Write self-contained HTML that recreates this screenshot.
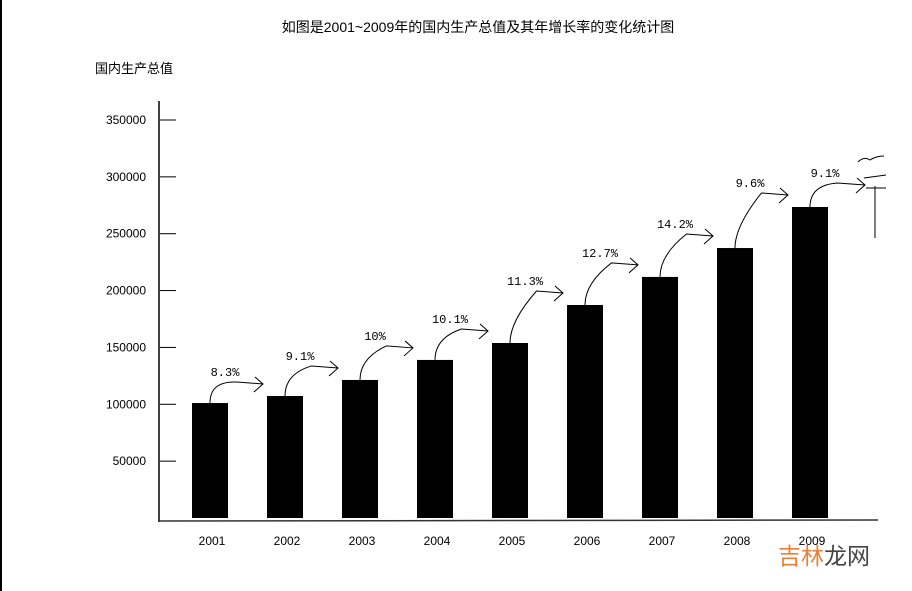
<!DOCTYPE html>
<html><head><meta charset="utf-8"><style>
body{margin:0;background:#fff;}
svg{display:block;font-family:"Liberation Sans","Noto Sans CJK SC",sans-serif;}
</style></head><body>
<svg width="912" height="591" viewBox="0 0 912 591">
<rect x="0" y="0" width="2" height="591" fill="#000"/>
<text x="478" y="32" font-size="14" text-anchor="middle">如图是2001~2009年的国内生产总值及其年增长率的变化统计图</text>
<text x="95" y="73" font-size="13">国内生产总值</text>
<line x1="159" y1="101" x2="159" y2="522" stroke="#000" stroke-width="1.5"/>
<line x1="159" y1="521" x2="878" y2="520" stroke="#333" stroke-width="1.5"/>
<g id="ticks"></g><g id="bars"></g><g id="arrows"></g><g id="xlabels"></g>
<text x="778" y="564" font-size="23" fill="#e8803a">吉林<tspan fill="#444">龙网</tspan></text>
<path d="M858 162 q6 -6 12 -2 q6 -4 14 -4 M864 178 l22 -3 M866 188 l20 0 M875 186 l0 52" stroke="#000" fill="none" stroke-width="1"/>
</svg>
<script>
const years=["2001","2002","2003","2004","2005","2006","2007","2008","2009"];
const gdp=[101100,107300,121400,139000,153900,187300,212000,237400,273500];
const growth=["8.3%","9.1%","10%","10.1%","11.3%","12.7%","14.2%","9.6%","9.1%"];
const tickValues=[50000,100000,150000,200000,250000,300000,350000];
const NS="http://www.w3.org/2000/svg";
const y0=518,y1=120,vmax=350000;
function yS(v){return y0-(y0-y1)*v/vmax;}
const xStart=210,xStep=75,bw=36;
function xS(i){return xStart+i*xStep;}
function mk(t,a,parent){const e=document.createElementNS(NS,t);for(const k in a)e.setAttribute(k,a[k]);document.getElementById(parent).appendChild(e);return e;}
tickValues.forEach((v,i)=>{
  const y=yS(v);
  const l=mk('line',{x1:160,y1:y,x2:176,y2:y,stroke:'#000','stroke-width':1},'ticks');
  
  
  const t=mk('text',{x:146,y:y+4,'font-size':12,'text-anchor':'end'},'ticks');
  t.textContent=String(v);
  
  
});
years.forEach((yr,i)=>{
  const x=xS(i),top=yS(gdp[i]);
  const r=mk('rect',{x:x-bw/2,y:top,width:bw,height:y0-top,fill:'#000'},'bars');
  
  
  const t=mk('text',{x:x+2,y:545,'font-size':12,'text-anchor':'middle'},'xlabels');
  t.textContent=yr;
  
  
  const sx=x,sy=top;
  const ex=(i<years.length-1)?xS(i+1)-bw/2-4:x+55;
  const ey=(i<years.length-1)?Math.min(top,yS(gdp[i+1]))-12:top-22;
  const p=mk('path',{d:`M${sx} ${sy} Q${sx} ${sy-22} ${(sx+ex)/2} ${ey-2} L${ex} ${ey} M${ex-8} ${ey-7} L${ex} ${ey} L${ex-9} ${ey+8}`,stroke:'#000',fill:'none','stroke-width':1},'arrows');
  
  
  const g=mk('text',{x:x+15,y:ey-8,'font-size':12,'text-anchor':'middle','font-family':'"Liberation Mono","Noto Sans CJK SC",monospace'},'arrows');
  g.textContent=growth[i];
  
  
});
</script>
</body></html>
